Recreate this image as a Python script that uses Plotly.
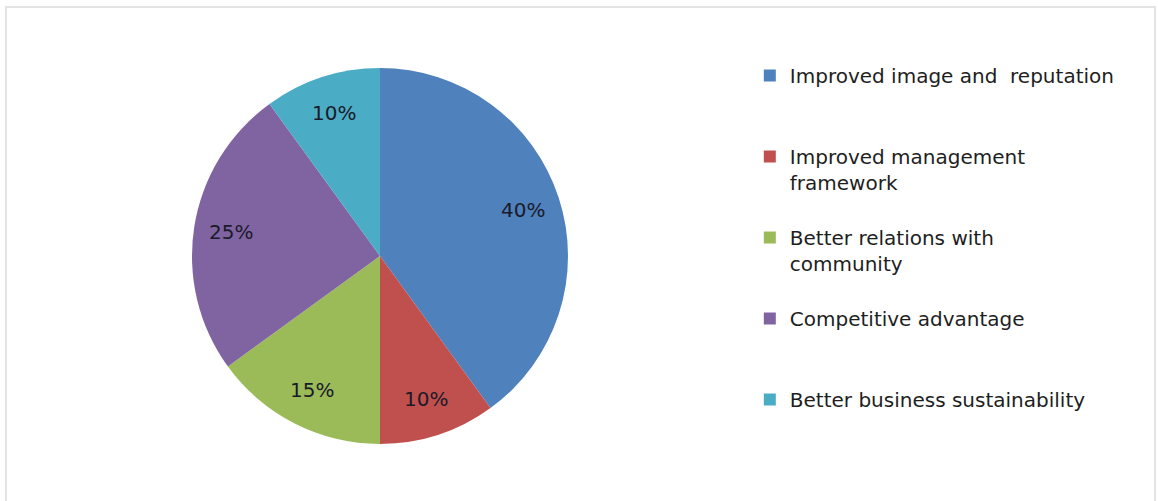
import math
import plotly.graph_objects as go

categories = [
    "Improved image and  reputation",
    "Improved management framework",
    "Better relations with community",
    "Competitive advantage",
    "Better business sustainability",
]
legend_labels = [
    "Improved image and  reputation<br> <br> ",
    "Improved management<br>framework<br> ",
    "Better relations with<br>community<br> ",
    "Competitive advantage<br> <br> ",
    "Better business sustainability",
]
values = [40, 10, 15, 25, 10]
colors = ["#4F81BD", "#C0504D", "#9BBB59", "#8064A2", "#4BACC6"]

W, H = 1158, 501
cx, cy, r = 380, 256, 188
label_frac = 0.8

fig = go.Figure(
    go.Pie(
        labels=legend_labels,
        values=values,
        sort=False,
        direction="clockwise",
        rotation=0,
        marker=dict(colors=colors, line=dict(width=0)),
        textinfo="none",
        domain=dict(x=[(cx - r) / W, (cx + r) / W], y=[(H - cy - r) / H, (H - cy + r) / H]),
        hoverinfo="label+percent",
    )
)

# percentage labels placed along each slice's mid-angle (derived from the values)
total = sum(values)
annotations = []
cum = 0.0
for v in values:
    mid = (cum + v / 2) / total * 2 * math.pi
    cum += v
    px = cx + label_frac * r * math.sin(mid)
    py = cy - label_frac * r * math.cos(mid)
    annotations.append(dict(
        x=px / W, y=1 - py / H, xref="paper", yref="paper",
        text=f"{round(v / total * 100)}%", showarrow=False,
        font=dict(family="DejaVu Sans", size=20, color="#1a1a2a"),
        xanchor="center", yanchor="middle",
    ))

fig.update_layout(
    width=W,
    height=H,
    margin=dict(l=0, r=0, t=0, b=0),
    paper_bgcolor="white",
    plot_bgcolor="white",
    showlegend=True,
    annotations=annotations,
    legend=dict(
        x=0.6475,
        xanchor="left",
        y=1 - 56 / H,
        yanchor="top",
        valign="top",
        font=dict(family="DejaVu Sans", size=20, color="#1e1e1e"),
        bgcolor="rgba(0,0,0,0)",
    ),
    shapes=[
        dict(type="rect", xref="paper", yref="paper",
             x0=6 / W, x1=1155 / W, y0=-0.02, y1=(H - 7) / H,
             line=dict(color="#e4e4e4", width=2), fillcolor="rgba(0,0,0,0)", layer="below"),
    ],
)

fig.write_html("out.html")
